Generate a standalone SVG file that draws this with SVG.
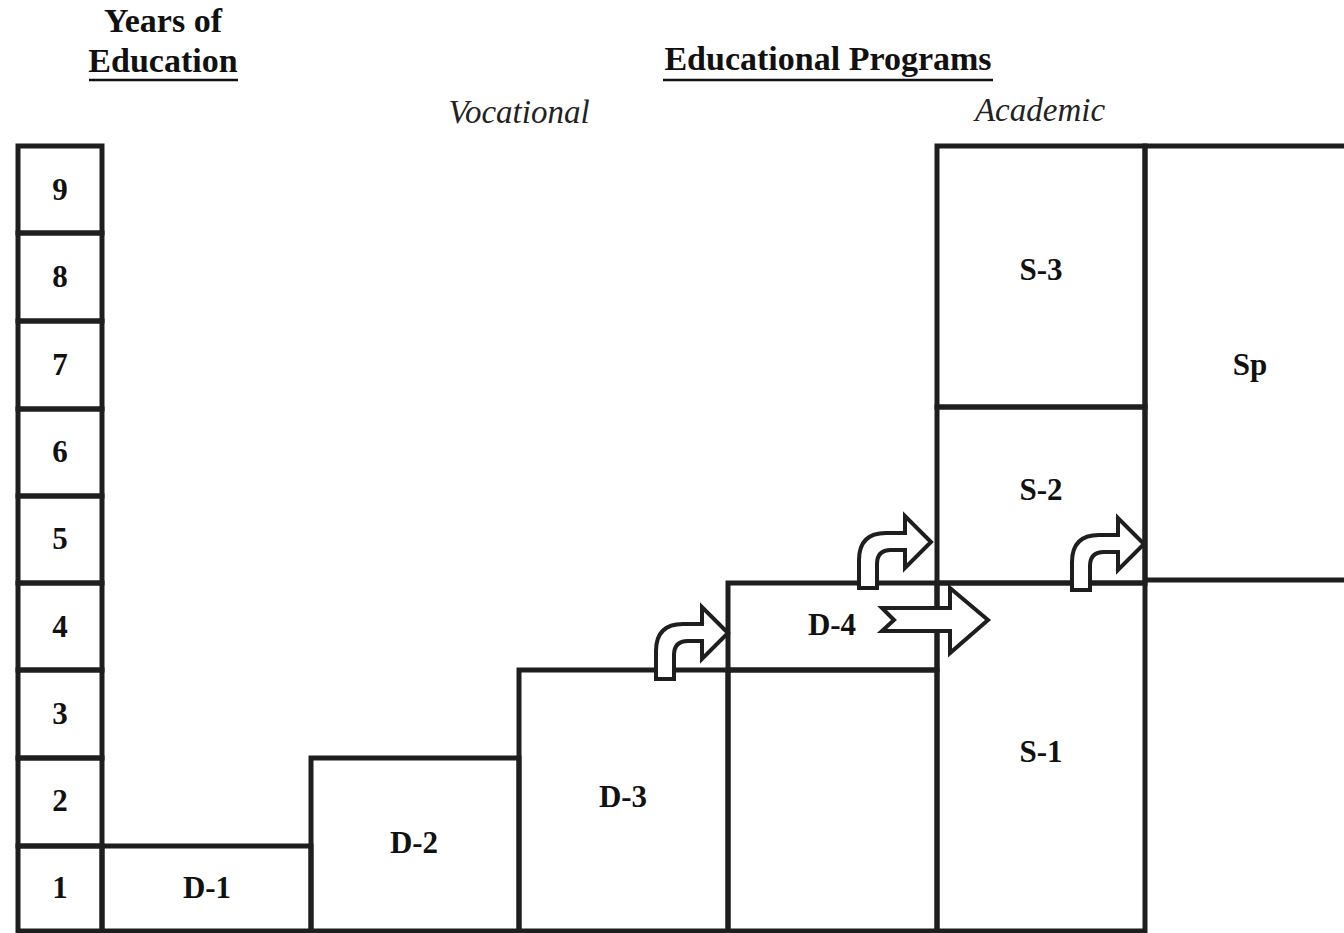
<svg xmlns="http://www.w3.org/2000/svg" width="1344" height="933" viewBox="0 0 1344 933">
<defs>
<style>
.box{fill:none;stroke:#1e1e1e;stroke-width:5}
.t{font-family:"Liberation Serif","Times New Roman",serif;font-weight:bold;font-size:31px;fill:#111;text-anchor:middle}
.h{font-family:"Liberation Serif","Times New Roman",serif;font-weight:bold;font-size:34px;fill:#111;text-anchor:middle}
.i{font-family:"Liberation Serif","Times New Roman",serif;font-style:italic;font-size:33px;fill:#222;text-anchor:middle}
.arr{fill:#fff;stroke:#1e1e1e;stroke-width:4;stroke-linejoin:miter}
</style>
<path id="turn" d="M0,0 V-28 Q0,-55 27,-55 H46 V-72 L72,-46 L46,-20 V-38 H32 Q18,-38 18,-24 V0 Z"/>
</defs>
<rect width="1344" height="933" fill="#fff"/>

<g id="titles">
<text class="h" x="163" y="32">Years of</text>
<text class="h" x="163" y="72">Education</text>
<line x1="89" y1="80" x2="238" y2="80" stroke="#111" stroke-width="2.5"/>
<text class="h" x="828" y="70">Educational Programs</text>
<line x1="663" y1="80" x2="993" y2="80" stroke="#111" stroke-width="2.5"/>
<text class="i" x="519" y="123">Vocational</text>
<text class="i" x="1040" y="121">Academic</text>
</g>

<g id="years">
<g id="year-9"><rect class="box" x="18" y="146" width="84" height="87"/><text class="t" x="60" y="200">9</text></g>
<g id="year-8"><rect class="box" x="18" y="233" width="84" height="88"/><text class="t" x="60" y="287">8</text></g>
<g id="year-7"><rect class="box" x="18" y="321" width="84" height="88"/><text class="t" x="60" y="375">7</text></g>
<g id="year-6"><rect class="box" x="18" y="409" width="84" height="87"/><text class="t" x="60" y="462">6</text></g>
<g id="year-5"><rect class="box" x="18" y="496" width="84" height="87"/><text class="t" x="60" y="549">5</text></g>
<g id="year-4"><rect class="box" x="18" y="583" width="84" height="87"/><text class="t" x="60" y="637">4</text></g>
<g id="year-3"><rect class="box" x="18" y="670" width="84" height="88"/><text class="t" x="60" y="724">3</text></g>
<g id="year-2"><rect class="box" x="18" y="758" width="84" height="88"/><text class="t" x="60" y="811">2</text></g>
<g id="year-1"><rect class="box" x="18" y="846" width="84" height="85"/><text class="t" x="60" y="898">1</text></g>
</g>

<g id="D-1"><rect class="box" x="102" y="846" width="209" height="85"/><text class="t" x="207" y="898">D-1</text></g>
<g id="D-2"><rect class="box" x="311" y="758" width="208" height="173"/><text class="t" x="414" y="853">D-2</text></g>
<g id="D-3"><rect class="box" x="519" y="670" width="209" height="261"/><text class="t" x="623" y="807">D-3</text></g>
<g id="D-4"><rect class="box" x="728" y="583" width="209" height="87"/><text class="t" x="832" y="635">D-4</text></g>
<g id="D-4-base"><rect class="box" x="728" y="670" width="209" height="261"/></g>
<g id="S-1"><rect class="box" x="937" y="583" width="208" height="348"/><text class="t" x="1041" y="762">S-1</text></g>
<g id="S-2"><rect class="box" x="937" y="407" width="208" height="176"/><text class="t" x="1041" y="500">S-2</text></g>
<g id="S-3"><rect class="box" x="937" y="146" width="208" height="261"/><text class="t" x="1041" y="280">S-3</text></g>
<g id="Sp"><rect class="box" x="1145" y="146" width="210" height="434"/><text class="t" x="1250" y="375">Sp</text></g>

<g id="connectors">
<use href="#turn" class="arr" transform="translate(656,679)"/>
<use href="#turn" class="arr" transform="translate(859,588)"/>
<use href="#turn" class="arr" transform="translate(1072,590)"/>
<path class="arr" d="M882,608 H950 V588 L988,620 L950,653 V631 H882 L894,620 Z"/>
</g>
</svg>
